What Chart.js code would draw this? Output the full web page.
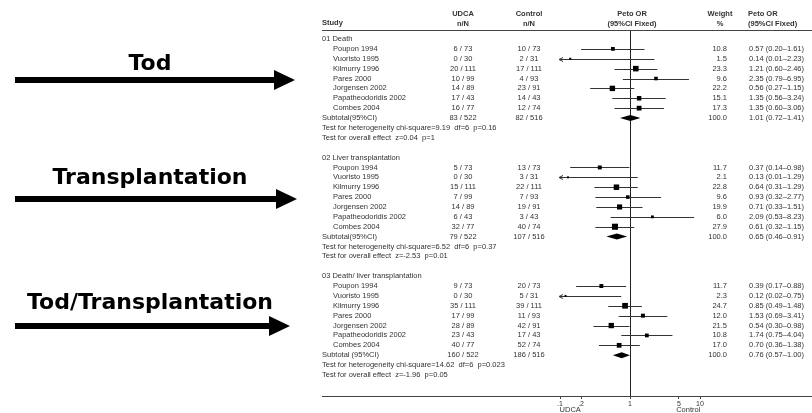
<!DOCTYPE html>
<html>
<head>
<meta charset="utf-8">
<script src="https://cdn.jsdelivr.net/npm/chart.js@4/dist/chart.umd.min.js"></script>
<style>
  body { margin: 0; background: #fff; }
  canvas { display: block; }
</style>
</head>
<body>
<canvas id="forest" width="812" height="413"></canvas>
<script>
// ---- data ----
const groups = ["01 Death", "02 Liver transplantation", "03 Death/ liver transplantation"];
const sideLabels = ["Tod", "Transplantation", "Tod/Transplantation"];
const studies = ["Poupon 1994", "Vuoristo 1995", "Kilmurry 1996", "Pares 2000", "Jorgensen 2002", "Papatheodoridis 2002", "Combes 2004"];
const udcaTotals = [73, 30, 111, 99, 89, 43, 77];
const ctrlTotals = [73, 31, 111, 93, 91, 43, 74];
const udcaEvents = [[6, 0, 20, 10, 14, 17, 16], [5, 0, 15, 7, 14, 6, 32], [9, 0, 35, 17, 28, 23, 40]];
const ctrlEvents = [[10, 2, 17, 4, 23, 14, 12], [13, 3, 22, 7, 19, 3, 40], [20, 5, 39, 11, 42, 17, 52]];
const weights = [[10.8, 1.5, 23.3, 9.6, 22.2, 15.1, 17.3], [11.7, 2.1, 22.8, 9.6, 19.9, 6.0, 27.9], [11.7, 2.3, 24.7, 12.0, 21.5, 10.8, 17.0]];
const oddsRatio = [[0.57, 0.14, 1.21, 2.35, 0.56, 1.35, 1.35], [0.37, 0.13, 0.64, 0.93, 0.71, 2.09, 0.61], [0.39, 0.12, 0.85, 1.53, 0.54, 1.74, 0.70]];
const ciLow = [[0.20, 0.01, 0.60, 0.79, 0.27, 0.56, 0.60], [0.14, 0.01, 0.31, 0.32, 0.33, 0.53, 0.32], [0.17, 0.02, 0.49, 0.69, 0.30, 0.75, 0.36]];
const ciHigh = [[1.61, 2.23, 2.46, 6.95, 1.15, 3.24, 3.06], [0.98, 1.29, 1.29, 2.77, 1.51, 8.23, 1.15], [0.88, 0.75, 1.48, 3.41, 0.98, 4.04, 1.38]];
const subtotalLabels = ["Subtotal(95%CI)", "Subtotal(95%CI)", "Subtotal (95%CI)"];
const subUdca = [83, 79, 160];
const subCtrl = [82, 107, 186];
const subTotalsN = [522, 516];
const subOR = [1.01, 0.65, 0.76];
const subLow = [0.72, 0.46, 0.57];
const subHigh = [1.41, 0.91, 1.00];
const heterogeneity = ["chi-square=9.19  df=6  p=0.16", "chi-square=6.52  df=6  p=0.37", "chi-square=14.62  df=6  p=0.023"];
const overallEffect = ["z=0.04  p=1", "z=-2.53  p=0.01", "z=-1.96  p=0.05"];
const xTicks = [0.1, 0.2, 1, 5, 10];
const xTickLabels = [".1", ".2", "1", "5", "10"];

// row index helpers (12 rows per group)
const groupRow = g => g * 12;
const studyRow = (g, i) => g * 12 + 1 + i;
const subRow = g => g * 12 + 8;

const fmt2 = v => v.toFixed(2);

// squares for the individual studies
const squares = [];
const squareRadius = [];
groups.forEach((g, gi) => {
  studies.forEach((s, i) => {
    squares.push({ x: oddsRatio[gi][i], y: studyRow(gi, i) });
    const side = Math.max(2, 1.15 * Math.sqrt(weights[gi][i]));
    squareRadius.push(side / Math.SQRT2);
  });
});

const TEXT = "#333";
const FONT = "7.5px 'Liberation Sans', Arial, sans-serif";
const BOLD = "bold 7.5px 'Liberation Sans', Arial, sans-serif";

const forestPlugin = {
  id: "forest",
  beforeDatasetsDraw(chart) {
    const { ctx, scales: { x, y }, chartArea } = chart;
    ctx.save();
    // line of no effect
    const x1 = Math.round(x.getPixelForValue(1)) + 0.5;
    ctx.strokeStyle = "#222";
    ctx.lineWidth = 1;
    ctx.beginPath();
    ctx.moveTo(x1, chartArea.top);
    ctx.lineTo(x1, chartArea.bottom);
    ctx.stroke();

    // confidence intervals
    ctx.strokeStyle = "#333";
    groups.forEach((g, gi) => {
      studies.forEach((s, i) => {
        const py = Math.round(y.getPixelForValue(studyRow(gi, i))) + 0.5;
        const lo = Math.max(ciLow[gi][i], x.min);
        const hi = Math.min(ciHigh[gi][i], x.max);
        const pl = x.getPixelForValue(lo);
        const ph = x.getPixelForValue(hi);
        ctx.beginPath();
        ctx.moveTo(pl, py);
        ctx.lineTo(ph, py);
        ctx.stroke();
        if (ciLow[gi][i] < x.min) {
          ctx.beginPath();
          ctx.moveTo(pl + 3, py - 2);
          ctx.lineTo(pl - 1, py);
          ctx.lineTo(pl + 3, py + 2);
          ctx.stroke();
        }
      });
      // subtotal diamond
      const dy = y.getPixelForValue(subRow(gi));
      ctx.fillStyle = "#000";
      ctx.beginPath();
      ctx.moveTo(x.getPixelForValue(subLow[gi]), dy);
      ctx.lineTo(x.getPixelForValue(subOR[gi]), dy - 3);
      ctx.lineTo(x.getPixelForValue(subHigh[gi]), dy);
      ctx.lineTo(x.getPixelForValue(subOR[gi]), dy + 3);
      ctx.closePath();
      ctx.fill();
    });
    ctx.restore();
  },
  afterDraw(chart) {
    const { ctx, scales: { x, y }, chartArea } = chart;
    ctx.save();

    // table rules
    ctx.strokeStyle = "#444";
    ctx.lineWidth = 1;
    ctx.beginPath();
    ctx.moveTo(322, chartArea.top + 0.5);
    ctx.lineTo(812, chartArea.top + 0.5);
    ctx.moveTo(322, chartArea.bottom + 0.5);
    ctx.lineTo(812, chartArea.bottom + 0.5);
    ctx.stroke();

    // header
    ctx.fillStyle = TEXT;
    ctx.font = BOLD;
    ctx.textBaseline = "middle";
    ctx.textAlign = "left";
    ctx.fillText("Study", 322, 23);
    ctx.textAlign = "center";
    ctx.fillText("UDCA", 463, 14);
    ctx.fillText("n/N", 463, 24);
    ctx.fillText("Control", 529, 14);
    ctx.fillText("n/N", 529, 24);
    ctx.fillText("Peto OR", 632, 14);
    ctx.fillText("(95%CI Fixed)", 632, 24);
    ctx.fillText("Weight", 720, 14);
    ctx.fillText("%", 720, 24);
    ctx.textAlign = "left";
    ctx.fillText("Peto OR", 748, 14);
    ctx.fillText("(95%CI Fixed)", 748, 24);

    // table body
    ctx.font = FONT;
    groups.forEach((g, gi) => {
      ctx.textAlign = "left";
      ctx.fillText(g, 322, y.getPixelForValue(groupRow(gi)));
      studies.forEach((s, i) => {
        const py = y.getPixelForValue(studyRow(gi, i));
        ctx.textAlign = "left";
        ctx.fillText(s, 333, py);
        ctx.textAlign = "center";
        ctx.fillText(udcaEvents[gi][i] + " / " + udcaTotals[i], 463, py);
        ctx.fillText(ctrlEvents[gi][i] + " / " + ctrlTotals[i], 529, py);
        ctx.textAlign = "right";
        ctx.fillText(weights[gi][i].toFixed(1), 727, py);
        ctx.textAlign = "left";
        ctx.fillText(fmt2(oddsRatio[gi][i]) + " (" + fmt2(ciLow[gi][i]) + "\u2013" + fmt2(ciHigh[gi][i]) + ")", 749, py);
      });
      const sy = y.getPixelForValue(subRow(gi));
      ctx.textAlign = "left";
      ctx.fillText(subtotalLabels[gi], 322, sy);
      ctx.textAlign = "center";
      ctx.fillText(subUdca[gi] + " / " + subTotalsN[0], 463, sy);
      ctx.fillText(subCtrl[gi] + " / " + subTotalsN[1], 529, sy);
      ctx.textAlign = "right";
      ctx.fillText("100.0", 727, sy);
      ctx.textAlign = "left";
      ctx.fillText(fmt2(subOR[gi]) + " (" + fmt2(subLow[gi]) + "\u2013" + fmt2(subHigh[gi]) + ")", 749, sy);
      ctx.fillText("Test for heterogeneity " + heterogeneity[gi], 322, y.getPixelForValue(subRow(gi) + 1));
      ctx.fillText("Test for overall effect  " + overallEffect[gi], 322, y.getPixelForValue(subRow(gi) + 2));
    });

    // axis side captions
    ctx.textAlign = "center";
    ctx.fillText("UDCA", x.getPixelForValue(0.14), 410);
    ctx.fillText("Control", x.getPixelForValue(6.8), 410);

    // big labels with arrows on the left
    const arrows = [
      { baseline: 70, y: 80, end: 295 },
      { baseline: 184, y: 199, end: 297 },
      { baseline: 309, y: 326, end: 290 }
    ];
    ctx.fillStyle = "#000";
    ctx.font = "bold 22px 'DejaVu Sans', Verdana, sans-serif";
    ctx.textBaseline = "alphabetic";
    sideLabels.forEach((t, i) => {
      const a = arrows[i];
      ctx.textAlign = "center";
      ctx.fillText(t, 150, a.baseline);
      ctx.fillRect(15, a.y - 3, a.end - 20 - 15, 6);
      ctx.beginPath();
      ctx.moveTo(a.end - 21, a.y - 10);
      ctx.lineTo(a.end, a.y);
      ctx.lineTo(a.end - 21, a.y + 10);
      ctx.closePath();
      ctx.fill();
    });
    ctx.restore();
  }
};

const ctx = document.getElementById("forest").getContext("2d");
new Chart(ctx, {
  type: "scatter",
  data: {
    datasets: [{
      label: "Studies",
      data: squares,
      pointStyle: "rect",
      pointRadius: squareRadius,
      backgroundColor: "#000",
      borderColor: "#000",
      borderWidth: 0
    }]
  },
  options: {
    responsive: false,
    animation: false,
    layout: { padding: { left: 560, right: 112, top: 30, bottom: 0 } },
    plugins: { legend: { display: false }, tooltip: { enabled: false } },
    scales: {
      x: {
        type: "logarithmic",
        min: 0.1,
        max: 10,
        afterBuildTicks: scale => { scale.ticks = xTicks.map(v => ({ value: v })); },
        afterFit: scale => { scale.height = 17; },
        ticks: {
          autoSkip: false,
          maxRotation: 0,
          padding: 1,
          color: TEXT,
          font: { family: "'Liberation Sans', Arial, sans-serif", size: 7 },
          callback: (v, i) => xTickLabels[i]
        },
        grid: { drawOnChartArea: false, tickLength: 3, color: "#444" },
        border: { color: "#444" }
      },
      y: {
        type: "linear",
        display: false,
        reverse: true,
        min: -0.91,
        max: 36.13
      }
    }
  },
  plugins: [forestPlugin]
});
</script>
</body>
</html>
